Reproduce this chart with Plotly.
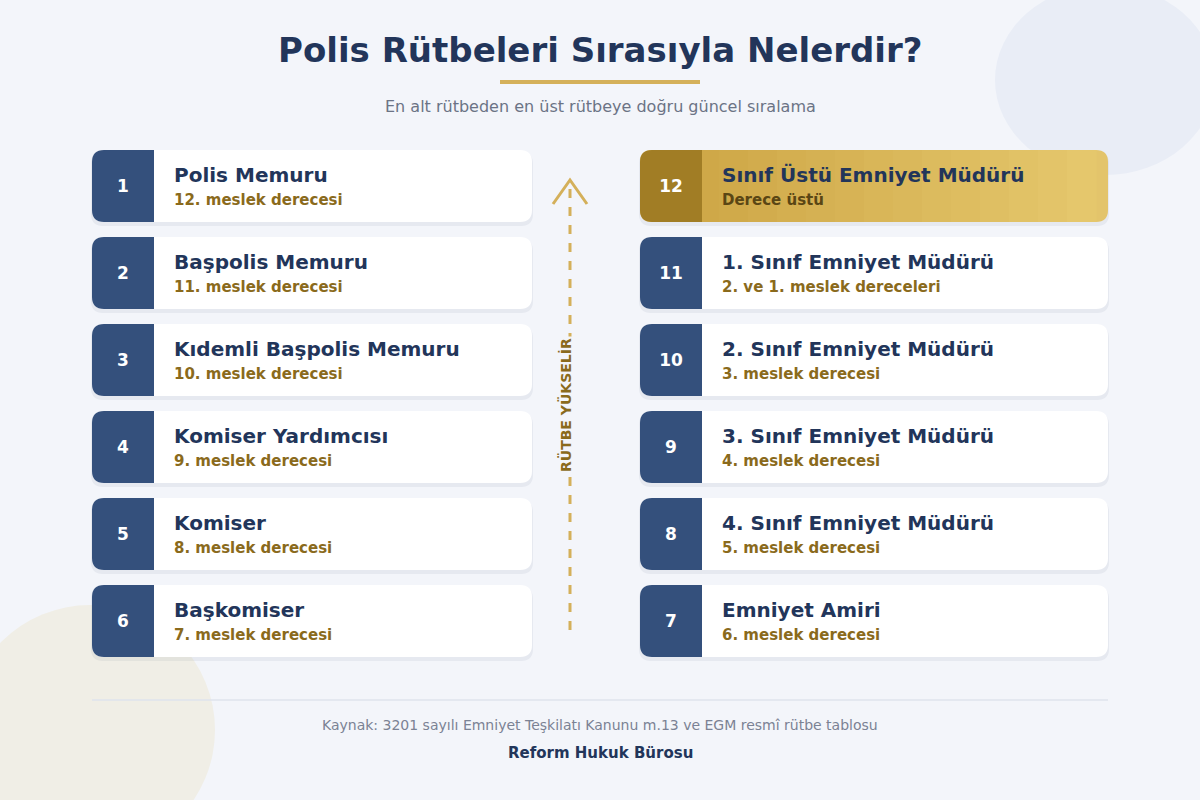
import plotly.graph_objects as go

left_ranks = [1, 2, 3, 4, 5, 6]
left_names = ["Polis Memuru", "Başpolis Memuru", "Kıdemli Başpolis Memuru",
              "Komiser Yardımcısı", "Komiser", "Başkomiser"]
left_degrees = ["12. meslek derecesi", "11. meslek derecesi", "10. meslek derecesi",
                "9. meslek derecesi", "8. meslek derecesi", "7. meslek derecesi"]
right_ranks = [12, 11, 10, 9, 8, 7]
right_names = ["Sınıf Üstü Emniyet Müdürü", "1. Sınıf Emniyet Müdürü", "2. Sınıf Emniyet Müdürü",
               "3. Sınıf Emniyet Müdürü", "4. Sınıf Emniyet Müdürü", "Emniyet Amiri"]
right_degrees = ["Derece üstü", "2. ve 1. meslek dereceleri", "3. meslek derecesi",
                 "4. meslek derecesi", "5. meslek derecesi", "6. meslek derecesi"]

TITLE = "Polis Rütbeleri Sırasıyla Nelerdir?"
SUBTITLE = "En alt rütbeden en üst rütbeye doğru güncel sıralama"
SOURCE = "Kaynak: 3201 sayılı Emniyet Teşkilatı Kanunu m.13 ve EGM resmî rütbe tablosu"
BRAND = "Reform Hukuk Bürosu"

FONT = "DejaVu Sans"
NAVY = "#22355a"
GOLD_TXT = "#8a6a1c"

def rr(x0, y0, x1, y1, r, left=True, right=True):
    p = f"M{x0 + (r if left else 0)},{y0} L{x1 - (r if right else 0)},{y0} "
    p += f"Q{x1},{y0} {x1},{y0 + r} L{x1},{y1 - r} Q{x1},{y1} {x1 - r},{y1} " if right else f"L{x1},{y0} L{x1},{y1} "
    p += f"L{x0 + (r if left else 0)},{y1} "
    p += f"Q{x0},{y1} {x0},{y1 - r} L{x0},{y0 + r} Q{x0},{y0} {x0 + r},{y0} Z" if left else f"L{x0},{y1} Z"
    return p

shapes = []
def S(**k):
    k.setdefault("layer", "below")
    shapes.append(k)

S(type="circle", x0=995, y0=-15, x1=1215, y1=175, fillcolor="#e9edf6", line_width=0)
S(type="circle", x0=-35, y0=605, x1=215, y1=855, fillcolor="#f0eee6", line_width=0)
S(type="line", x0=500, x1=700, y0=82, y1=82, line=dict(color="#d4b05a", width=4))
S(type="line", x0=92, x1=1108, y0=700, y1=700, line=dict(color="#dfe3ec", width=1.5))

row_tops = [150, 237, 324, 411, 498, 585]
H = 72
texts = []

def card(x0, x1, top, rank, name, deg, highlight=False):
    S(type="path", path=rr(x0 - 1, top + 2, x1 + 1, top + H + 4, 12),
      fillcolor="rgba(30,50,90,0.06)", line_width=0)
    if highlight:
        S(type="path", path=rr(x0, top, x1, top + H, 12), fillcolor="#e3c46b", line_width=0)
        n = 14
        xs, xe = x0 + 50, x1 - 12
        w = (xe - xs) / n
        c0, c1 = (0xcf, 0xa8, 0x48), (0xe5, 0xc7, 0x6c)
        for i in range(n):
            t = i / (n - 1)
            col = "rgb(%d,%d,%d)" % tuple(int(a + (b - a) * t) for a, b in zip(c0, c1))
            S(type="rect", x0=xs + i * w, x1=xs + (i + 1) * w + 0.5, y0=top, y1=top + H,
              fillcolor=col, line_width=0)
        S(type="path", path=rr(x0, top, x0 + 62, top + H, 12, right=False),
          fillcolor="#a17d25", line_width=0)
    else:
        S(type="path", path=rr(x0, top, x1, top + H, 12), fillcolor="#ffffff", line_width=0)
        S(type="path", path=rr(x0, top, x0 + 62, top + H, 12, right=False),
          fillcolor="#34507c", line_width=0)
    texts.append((x0 + 31, top + 38, f"<b>{rank}</b>", 17, "#ffffff", "center"))
    texts.append((x0 + 82, top + 27, f"<b>{name}</b>", 20, NAVY, "left"))
    texts.append((x0 + 82, top + 51, f"<b>{deg}</b>", 15, "#5a4614" if highlight else GOLD_TXT, "left"))

for i in range(6):
    card(92, 532, row_tops[i], left_ranks[i], left_names[i], left_degrees[i])
    card(640, 1108, row_tops[i], right_ranks[i], right_names[i], right_degrees[i], highlight=(i == 0))

S(type="line", x0=570, x1=570, y0=630, y1=186, line=dict(color="#d4b05a", width=3, dash="dash"))
S(type="path", path="M553,204 L570,180 L587,204", line=dict(color="#d4b05a", width=3))

fig = go.Figure()
groups = {}
for t in texts:
    groups.setdefault((t[5], t[3], t[4]), []).append(t)
for (align, size, color), g in groups.items():
    fig.add_trace(go.Scatter(
        x=[t[0] for t in g], y=[t[1] for t in g], text=[t[2] for t in g],
        mode="text", textposition="middle right" if align == "left" else "middle center",
        textfont=dict(family=FONT, size=size, color=color), hoverinfo="skip", showlegend=False))

ann = [
    dict(x=600, y=50, text=f"<b>{TITLE}</b>", font=dict(family=FONT, size=34, color=NAVY)),
    dict(x=600, y=106, text=SUBTITLE, font=dict(family=FONT, size=16, color="#6b7385")),
    dict(x=600, y=725, text=SOURCE, font=dict(family=FONT, size=14, color="#7b8294")),
    dict(x=600, y=753, text=f"<b>{BRAND}</b>", font=dict(family=FONT, size=15, color=NAVY)),
    dict(x=565, y=405, text="<b>RÜTBE YÜKSELİR</b>", textangle=-90,
         font=dict(family=FONT, size=14, color=GOLD_TXT), bgcolor="#f3f5fa"),
]
for a in ann:
    a.update(xref="x", yref="y", showarrow=False)

fig.update_layout(width=1200, height=800, margin=dict(l=0, r=0, t=0, b=0),
                  paper_bgcolor="#f3f5fa", plot_bgcolor="#f3f5fa",
                  shapes=shapes, annotations=ann,
                  xaxis=dict(range=[0, 1200], visible=False, fixedrange=True),
                  yaxis=dict(range=[800, 0], visible=False, fixedrange=True))
fig.write_html("out.html", config={"displayModeBar": False},
               post_script="document.body.style.margin='0';document.body.style.overflow='hidden';")
